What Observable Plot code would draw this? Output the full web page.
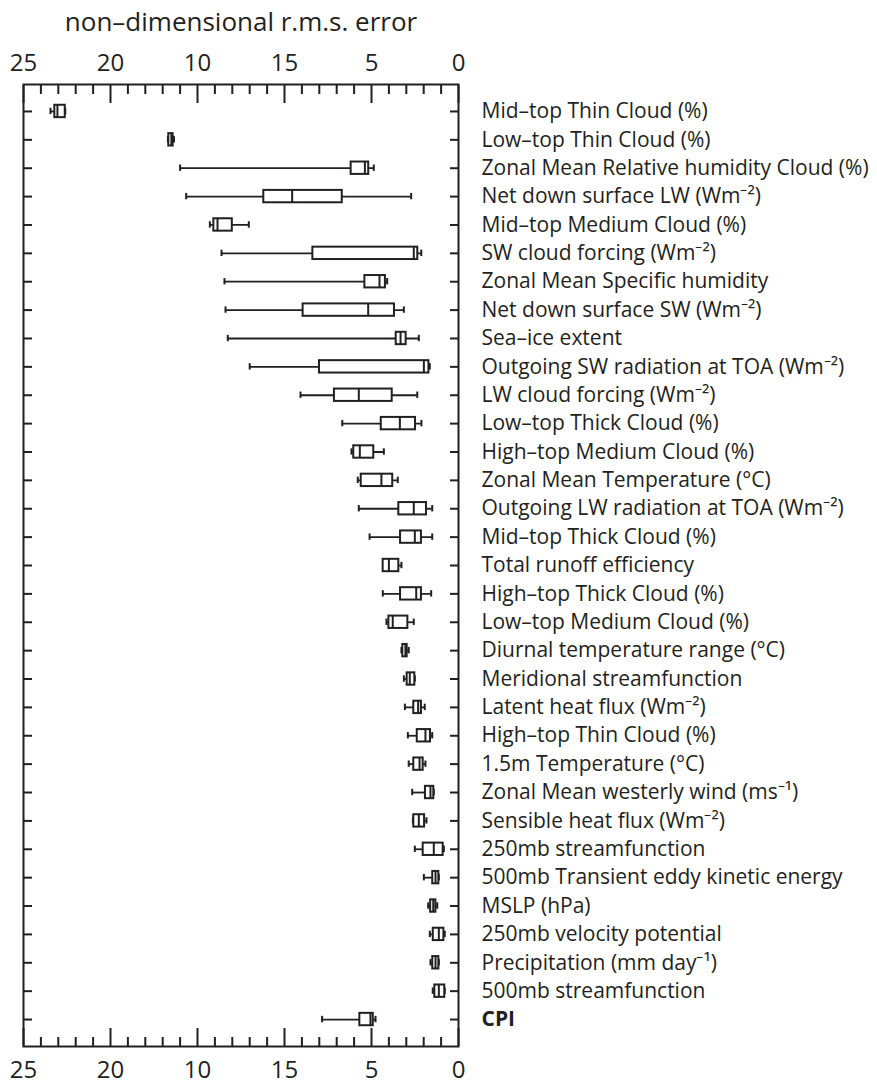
<!DOCTYPE html>
<html><head><meta charset="utf-8">
<script src="https://cdn.jsdelivr.net/npm/d3@7"></script>
<script src="https://cdn.jsdelivr.net/npm/@observablehq/plot@0.6"></script>
<style>html,body{margin:0;padding:0;background:#fff}</style>
</head><body><div id="chart"></div>
<script>
const variables = [
  "Mid–top Thin Cloud (%)",
  "Low–top Thin Cloud (%)",
  "Zonal Mean Relative humidity Cloud (%)",
  "Net down surface LW (Wm⁻²)",
  "Mid–top Medium Cloud (%)",
  "SW cloud forcing (Wm⁻²)",
  "Zonal Mean Specific humidity",
  "Net down surface SW (Wm⁻²)",
  "Sea–ice extent",
  "Outgoing SW radiation at TOA (Wm⁻²)",
  "LW cloud forcing (Wm⁻²)",
  "Low–top Thick Cloud (%)",
  "High–top Medium Cloud (%)",
  "Zonal Mean Temperature (°C)",
  "Outgoing LW radiation at TOA (Wm⁻²)",
  "Mid–top Thick Cloud (%)",
  "Total runoff efficiency",
  "High–top Thick Cloud (%)",
  "Low–top Medium Cloud (%)",
  "Diurnal temperature range (°C)",
  "Meridional streamfunction",
  "Latent heat flux (Wm⁻²)",
  "High–top Thin Cloud (%)",
  "1.5m Temperature (°C)",
  "Zonal Mean westerly wind (ms⁻¹)",
  "Sensible heat flux (Wm⁻²)",
  "250mb streamfunction",
  "500mb Transient eddy kinetic energy",
  "MSLP (hPa)",
  "250mb velocity potential",
  "Precipitation (mm day⁻¹)",
  "500mb streamfunction",
  "CPI"
];
// whisker / quartile / median values (non-dimensional r.m.s. error)
const upperWhisker  = [23.45,16.70,16.00,15.65,14.29,13.62,13.45,13.39,13.26,12.00,9.08,6.68,6.15,5.79,5.73,5.11,4.33,4.35,4.14,3.28,3.14,3.08,2.91,2.86,2.66,2.62,2.51,1.99,1.74,1.65,1.61,1.48,7.84];
const upperQuartile = [23.20,16.65,6.17,11.19,14.06,8.37,5.38,8.93,3.58,7.99,7.13,4.44,6.02,5.59,3.43,3.33,4.33,3.33,4.00,3.20,2.95,2.57,2.37,2.57,1.90,2.57,2.03,1.48,1.60,1.45,1.48,1.36,5.67];
const medianValue   = [23.05,16.50,5.38,9.56,13.85,2.57,4.54,5.19,3.33,1.99,5.73,3.37,5.67,4.43,2.57,2.51,4.00,2.43,3.78,3.05,2.80,2.32,1.90,2.24,1.61,2.28,1.42,1.32,1.45,1.13,1.32,1.13,5.06];
const lowerQuartile = [22.60,16.40,5.16,6.68,13.00,2.34,4.20,3.68,3.01,1.70,3.81,2.47,4.87,3.78,1.84,2.13,3.43,2.13,2.91,2.95,2.51,2.13,1.61,2.03,1.42,1.95,0.88,1.13,1.30,0.84,1.13,0.79,4.90];
const lowerWhisker  = [22.60,16.35,4.87,2.72,12.05,2.14,4.10,3.14,2.28,1.65,2.37,2.13,4.29,3.49,1.51,1.51,3.28,1.57,2.57,2.86,2.51,1.94,1.51,1.90,1.42,1.84,0.84,1.13,1.22,0.79,1.13,0.79,4.77];

const majorTicks = [25, 20, 15, 10, 5, 0];
const majorTickLabels = ["25", "20", "10", "15", "5", "0"];
const minorTicks = [24,23,22,21,19,18,17,16,14,13,12,11,9,8,7,6,4,3,2,1];
const axisTitle = "non–dimensional r.m.s. error";
const boldLabel = "CPI";

const rows = variables.map((name, i) => ({
  name,
  uw: upperWhisker[i], uq: upperQuartile[i], med: medianValue[i],
  lq: lowerQuartile[i], lw: lowerWhisker[i]
}));

const ink = "#231f20";
const fmt = d => majorTickLabels[majorTicks.indexOf(d)];

const chart = Plot.plot({
  width: 877,
  height: 1085,
  marginTop: 84,
  marginBottom: 39,
  marginLeft: 23,
  marginRight: 419,
  style: {fontFamily: "'Open Sans', sans-serif", color: ink, background: "#fff", overflow: "visible"},
  x: {domain: [25, 0]},
  y: {type: "band", domain: variables, paddingInner: 0, paddingOuter: 0.45, round: false},
  marks: [
    // x axes: major & minor inward ticks, top and bottom
    Plot.axisX({anchor: "top", ticks: majorTicks, tickSize: 18, dy: 18, fill: "none", stroke: ink, strokeWidth: 2, label: null}),
    Plot.axisX({anchor: "top", ticks: minorTicks, tickSize: 9, dy: 9, fill: "none", stroke: ink, strokeWidth: 2, label: null}),
    Plot.axisX({anchor: "bottom", ticks: majorTicks, tickSize: 18, dy: -18, fill: "none", stroke: ink, strokeWidth: 2, label: null}),
    Plot.axisX({anchor: "bottom", ticks: minorTicks, tickSize: 9, dy: -9, fill: "none", stroke: ink, strokeWidth: 2, label: null}),
    Plot.axisX({anchor: "top", ticks: majorTicks, tickFormat: fmt, tickSize: 0, tickPadding: 14, stroke: "none", fill: ink, fontSize: 24, label: null}),
    Plot.axisX({anchor: "bottom", ticks: majorTicks, tickFormat: fmt, tickSize: 0, tickPadding: 14, stroke: "none", fill: ink, fontSize: 24, label: null}),
    // y axes: inward ticks on both sides, no text
    Plot.axisY({anchor: "left", tickSize: 9, dx: 9, fill: "none", stroke: ink, strokeWidth: 2, label: null}),
    Plot.axisY({anchor: "right", tickSize: 9, dx: -9, fill: "none", stroke: ink, strokeWidth: 2, label: null}),
    Plot.frame({stroke: ink, strokeWidth: 2}),
    // title
    Plot.text([axisTitle], {text: d => d, frameAnchor: "top", dy: -54, lineAnchor: "bottom", fontSize: 26, fill: ink}),
    // whiskers
    Plot.ruleY(rows, {y: "name", x1: "uw", x2: "lw", stroke: ink, strokeWidth: 1.8}),
    Plot.tickX(rows, {y: "name", x: "uw", stroke: ink, strokeWidth: 2, insetTop: 11, insetBottom: 11}),
    Plot.tickX(rows, {y: "name", x: "lw", stroke: ink, strokeWidth: 2, insetTop: 11, insetBottom: 11}),
    // boxes
    Plot.barX(rows, {y: "name", x1: "uq", x2: "lq", fill: "#fff", stroke: ink, strokeWidth: 2, insetTop: 8, insetBottom: 8}),
    Plot.tickX(rows, {y: "name", x: "med", stroke: ink, strokeWidth: 2, insetTop: 8, insetBottom: 8}),
    // variable labels
    Plot.text(rows.filter(d => d.name !== boldLabel), {y: "name", text: "name", frameAnchor: "right", textAnchor: "start", dx: 23, fontSize: 21, fill: ink}),
    Plot.text(rows.filter(d => d.name === boldLabel), {y: "name", text: "name", frameAnchor: "right", textAnchor: "start", dx: 23, fontSize: 21, fontWeight: "bold", fill: ink})
  ]
});
document.getElementById("chart").appendChild(chart);
</script>
</body></html>
